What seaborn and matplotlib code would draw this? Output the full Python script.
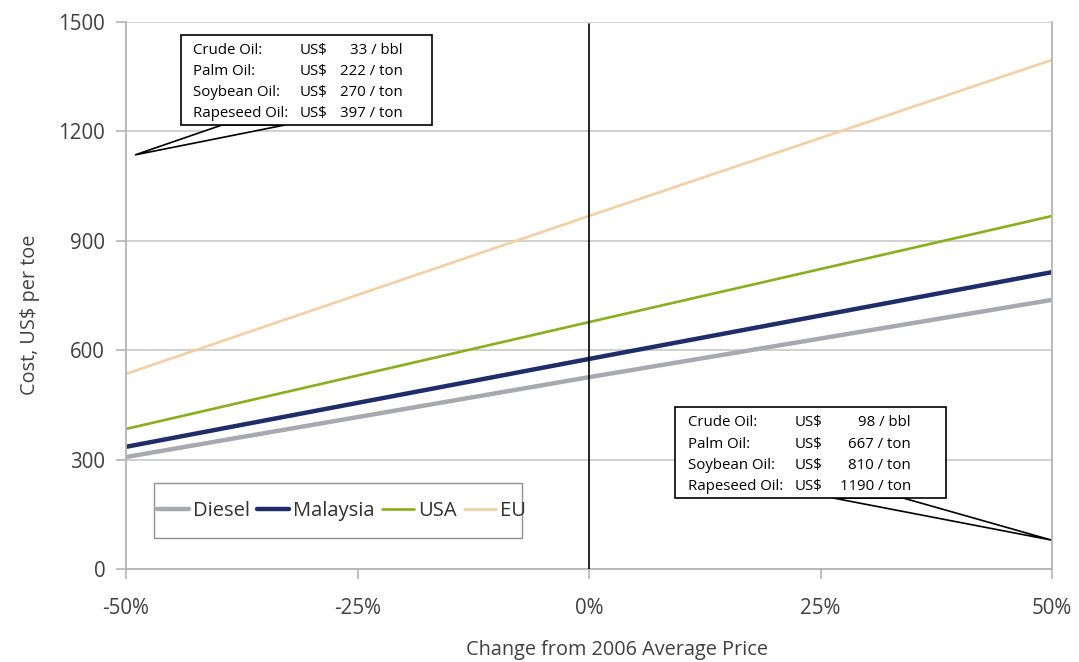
import matplotlib
matplotlib.use("Agg")
import matplotlib.pyplot as plt
from matplotlib.patches import Polygon, Rectangle
import seaborn as sns
import pandas as pd

# Price change relative to the 2006 average (%)
price_change = [-50, 0, 50]

# Production cost, US$ per toe
diesel = [307, 526, 738]
malaysia = [335, 576, 814]
usa = [384, 677, 968]
eu = [535, 968, 1396]

series_names = ["Diesel", "Malaysia", "USA", "EU"]
series_colors = ["#a7a9ae", "#1f2d6a", "#8bae1d", "#f3cfa4"]
series_widths = [3.2, 3.2, 1.9, 1.9]

x_ticks = [-50, -25, 0, 25, 50]
x_tick_labels = ["-50%", "-25%", "0%", "25%", "50%"]
y_ticks = [0, 300, 600, 900, 1200, 1500]

low_box_rows = [("Crude Oil:", "US$", "33 / bbl"),
                ("Palm Oil:", "US$", "222 / ton"),
                ("Soybean Oil:", "US$", "270 / ton"),
                ("Rapeseed Oil:", "US$", "397 / ton")]
high_box_rows = [("Crude Oil:", "US$", "98 / bbl"),
                 ("Palm Oil:", "US$", "667 / ton"),
                 ("Soybean Oil:", "US$", "810 / ton"),
                 ("Rapeseed Oil:", "US$", "1190 / ton")]

frames = []
for name, vals in zip(series_names, [diesel, malaysia, usa, eu]):
    frames.append(pd.DataFrame({"change": price_change, "cost": vals, "series": name}))
df = pd.concat(frames, ignore_index=True)

sns.set_theme(style="white")
plt.rcParams["font.family"] = ["Open Sans", "DejaVu Sans"]

fig = plt.figure(figsize=(10.79, 6.62), dpi=100)
ax = fig.add_axes([0.1168, 0.1405, 0.8582, 0.8263])

sns.lineplot(data=df, x="change", y="cost", hue="series", hue_order=series_names,
             palette=series_colors, ax=ax, legend=False)
for line, lw in zip(ax.get_lines(), series_widths):
    line.set_linewidth(lw)
    line.set_solid_capstyle("butt")

ax.set_xlim(-50, 50)
ax.set_ylim(0, 1500)
ax.set_xticks(x_ticks)
ax.set_xticklabels(x_tick_labels)
ax.set_yticks(y_ticks)
ax.yaxis.grid(True, color="#c8c8c8", linewidth=1.2)
ax.set_axisbelow(True)
for side in ["left", "right", "bottom", "top"]:
    ax.spines[side].set_color("#b4b4b4")
    ax.spines[side].set_linewidth(1.3)
ax.spines["top"].set_visible(False)
ax.tick_params(axis="both", which="both", direction="out", length=7, width=1.2,
               color="#b4b4b4", labelsize=14.8, labelcolor="#404040",
               left=True, bottom=True)
ax.tick_params(axis="x", pad=14)
ax.tick_params(axis="y", pad=8)
ax.set_xlabel("Change from 2006 Average Price", fontsize=14.3, color="#404040", labelpad=15)
ax.set_ylabel("Cost, US$ per toe", fontsize=14.3, color="#404040", labelpad=13)
ax.xaxis.label.set_x(0.53)
ax.yaxis.label.set_y(0.464)

# Reference line at the 2006 average price
ax.plot([0, 0], [0, 1495], color="black", linewidth=1.2, zorder=3)

# Legend with a separately drawn frame
ax.add_patch(Rectangle((0.0302, 0.0567), 0.3974, 0.1005, transform=ax.transAxes,
                       facecolor="white", edgecolor="#909090", linewidth=1.0, zorder=4))
handles = [plt.Line2D([], [], color=c, linewidth=w) for c, w in zip(series_colors, series_widths)]
leg = ax.legend(handles, series_names, ncol=4, loc="center left",
                bbox_to_anchor=(0.033, 0.106), frameon=False,
                fontsize=14.5, handlelength=1.6, handletextpad=0.2, columnspacing=0.35,
                borderpad=0, borderaxespad=0)
leg.set_zorder(5)
for t in leg.get_texts():
    t.set_color("#303030")


def callout(ax, box, base, tip, rows, cols):
    x0, y0, x1, y1 = box
    tri = Polygon([(base[0], y0), tip, (base[1], y0)], closed=True, transform=ax.transAxes,
                  facecolor="white", edgecolor="black", linewidth=1.2, zorder=5, clip_on=False)
    ax.add_patch(tri)
    rect = Rectangle((x0, y0), x1 - x0, y1 - y0, transform=ax.transAxes,
                     facecolor="white", edgecolor="black", linewidth=1.2, zorder=6, clip_on=False)
    ax.add_patch(rect)
    step = (y1 - y0) / 4.3
    for i, (label, cur, val) in enumerate(rows):
        yy = y1 - step * (i + 0.75)
        kw = dict(transform=ax.transAxes, fontsize=10.8, color="black", va="center", zorder=7)
        ax.text(cols[0], yy, label, ha="left", **kw)
        ax.text(cols[1], yy, cur, ha="left", **kw)
        ax.text(cols[2], yy, val, ha="right", **kw)


callout(ax, (0.0594, 0.8117, 0.3305, 0.976), (0.1037, 0.1717), (0.0097, 0.757),
        low_box_rows, (0.0724, 0.1875, 0.2985))
callout(ax, (0.5929, 0.1298, 0.8855, 0.2962), (0.7635, 0.8391), (0.999, 0.053),
        high_box_rows, (0.6069, 0.7225, 0.8475))

fig.savefig("out.png", dpi=100)
